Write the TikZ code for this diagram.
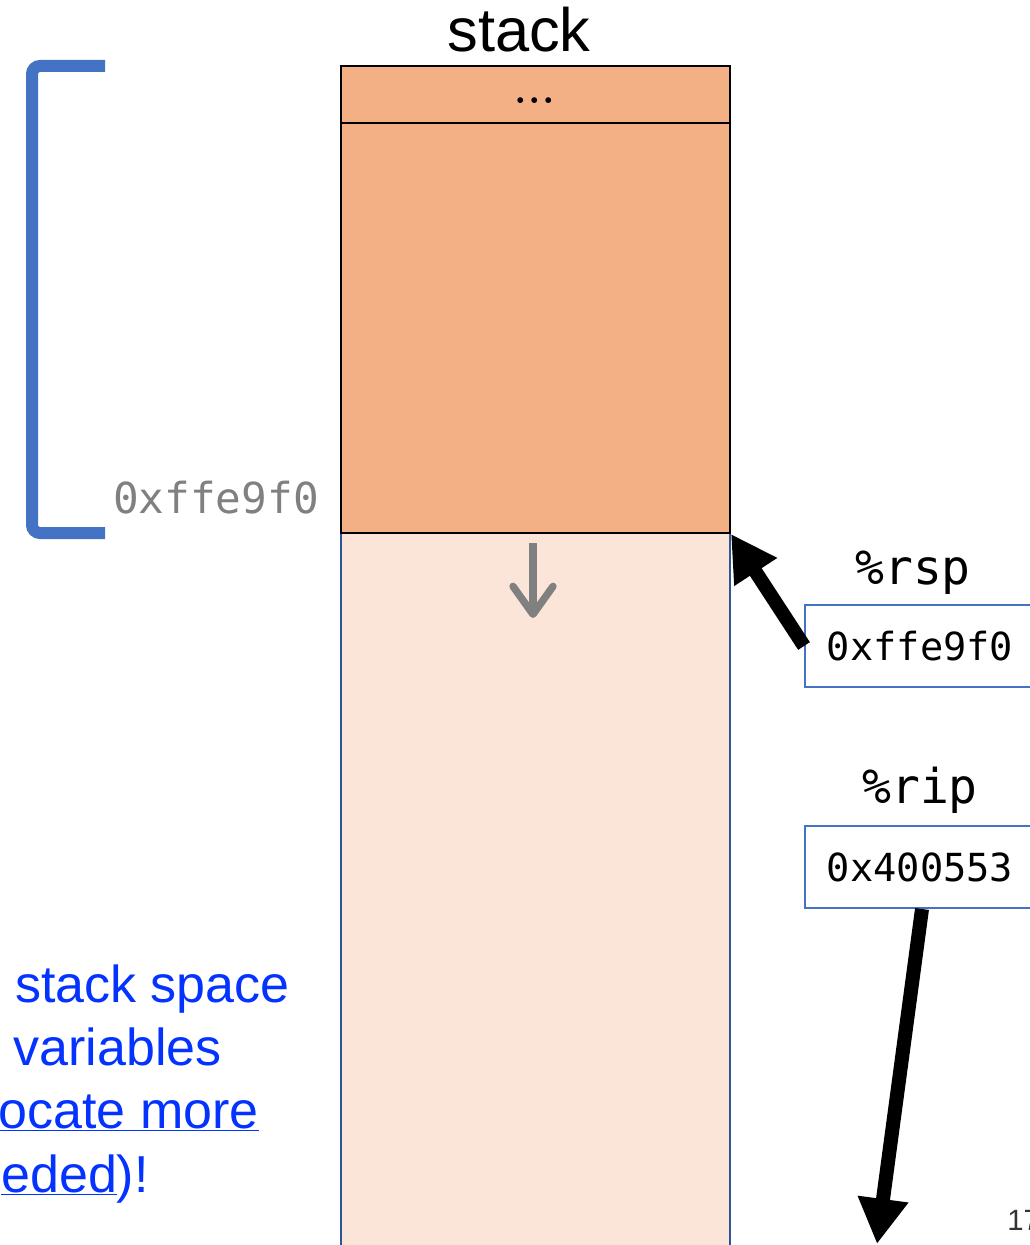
\documentclass[tikz,border=0pt]{standalone}
\usepackage{fontspec}
\newfontfamily\labelfont{Liberation Sans}
\newfontfamily\monofont{DejaVu Sans Mono}
\usetikzlibrary{arrows.meta}
\definecolor{stackorange}{HTML}{F2B084}
\definecolor{stacklight}{HTML}{FAE5D8}
\definecolor{accentblue}{HTML}{4472C4}
\definecolor{darkedge}{HTML}{2F5597}
\definecolor{linkblue}{HTML}{0433FF}
\definecolor{addrgray}{HTML}{808080}
\tikzset{
  orangecell/.style={fill=stackorange, draw=black, line width=1.5pt},
  regbox/.style={draw=accentblue, line width=1.5pt, fill=white, minimum width=172.5pt, minimum height=61.5pt, inner sep=0pt, font=\monofont\fontsize{29}{32}\selectfont},
  reglabel/.style={anchor=base, font=\monofont\fontsize{36}{40}\selectfont},
  bigarrow/.style={line width=10.5pt, -{Triangle[length=34pt,width=36pt]}},
  notetext/.style={anchor=base east, text=linkblue, font=\labelfont\fontsize{39}{43}\selectfont, inner sep=0pt},
}
\begin{document}
\begin{tikzpicture}[x=0.75pt, y=-0.75pt]
\useasboundingbox (0,0) rectangle (1029,1245);
% stack cells
\fill[stacklight] (341,533) rectangle (730,1270);
\draw[darkedge, line width=1.2pt] (341,533) -- (341,1270) (730,533) -- (730,1270);
\draw[orangecell] (341,66) rectangle (730,123);
\draw[orangecell] (341,123) rectangle (730,533);
\node[anchor=base, font=\labelfont\fontsize{46}{50}\selectfont, inner sep=0pt] (title) at (519,52) {stack};
\node[anchor=base, font=\normalfont\bfseries\fontsize{30}{34}\selectfont, inner sep=0pt] (dots) at (535,104) {.\hspace{1pt}.\hspace{1pt}.};
% growth arrow
\coordinate (gtop) at (533,543);
\coordinate (gbot) at (533,618);
\draw[addrgray, line width=5.5pt, -{Straight Barb[length=21pt,width=30pt,round]}] (gtop) -- (gbot);
% bracket
\draw[accentblue, line width=9pt, rounded corners=6pt] (105,66) -- (32,66) -- (32,533) -- (105,533);
\node[anchor=base, text=addrgray, font=\monofont\fontsize{32}{36}\selectfont, inner sep=0pt] (addr) at (216,513) {0xffe9f0};
% registers
\node[reglabel] (rsplabel) at (913,584) {\%rsp};
\node[regbox] (rspbox) at (920,646) {0xffe9f0};
\node[reglabel] (riplabel) at (920,803) {\%rip};
\node[regbox] (ripbox) at (920,867) {0x400553};
\coordinate (corner) at (731,534);
\coordinate (ripend) at (877,1244);
\draw[bigarrow] (rspbox.west) -- (corner);
\draw[bigarrow] ([xshift=1.5pt]ripbox.south) -- (ripend);
% note text
\node[notetext] (n1) at (290,1002) {stack space};
\node[notetext] (n2) at (222,1065) {variables};
\node[notetext] (n3) at (259,1128) {\underline{ocate more}};
\node[notetext] (n4) at (149,1192) {\underline{eded})!};
% page number
\node[anchor=base west, text=black!80, font=\labelfont\fontsize{22}{24}\selectfont, inner sep=0pt] (pnum) at (1007,1230) {17};
\end{tikzpicture}
\end{document}
